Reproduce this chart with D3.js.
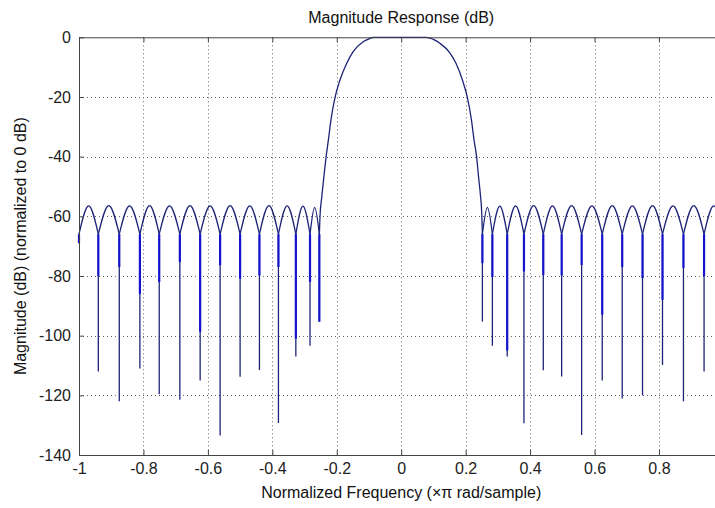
<!DOCTYPE html>
<html>
<head>
<meta charset="utf-8">
<script src="https://cdn.jsdelivr.net/npm/d3@7"></script>
<style>
  body { margin: 0; background: #fff; }
  text { font-family: "Liberation Sans", Arial, Helvetica, sans-serif; }
</style>
</head>
<body>
<div id="chart"></div>
<script>
// tick values (x = 1 falls just past the right edge of the picture)
var xTicks = [-1, -0.8, -0.6, -0.4, -0.2, 0, 0.2, 0.4, 0.6, 0.8];
var yTicks = [0, -20, -40, -60, -80, -100, -120, -140];

// stopband, left of the main lobe: null positions, null depth, depth of the heavy part, lobe tops
var leftNullFreq = [-1.0, -0.940, -0.875, -0.811, -0.751, -0.687, -0.624, -0.562, -0.500, -0.440, -0.381, -0.327, -0.283, -0.254];
var leftNullDb   = [-69, -112, -122, -111, -119.6, -121.5, -115, -133.5, -113.8, -111.5, -129.3, -107, -103.4, -95.3];
var leftThickDb  = [-69, -80, -77, -86, -82, -75.3, -98.7, -76.4, -80.9, -79.8, -77, -101, -82, -95.3];
var leftPeakDb   = [-56.5, -56.4, -56.5, -56.4, -56.5, -56.4, -56.5, -56.4, -56.5, -56.4, -56.5, -56.6, -57];

// stopband, right of the main lobe
var rightNullFreq = [0.252, 0.283, 0.329, 0.381, 0.441, 0.498, 0.560, 0.624, 0.686, 0.749, 0.811, 0.876, 0.940, 1.0];
var rightNullDb   = [-95.3, -103.4, -107, -129.4, -111.6, -113.7, -133.3, -115, -121.1, -120, -109.8, -122, -112, -69];
var rightThickDb  = [-75.7, -80.3, -105, -78.5, -79.7, -79.8, -76.3, -93, -77, -80.7, -88, -77.3, -80, -69];
var rightPeakDb   = [-57, -56.6, -56.5, -56.4, -56.5, -56.4, -56.5, -56.4, -56.5, -56.4, -56.5, -56.4, -56.5];

// level where the lobes meet above each null
var lobeFootDb = -66;

// main lobe
var mainFreq = [-0.254, -0.252, -0.247, -0.240, -0.233, -0.226, -0.218, -0.205, -0.190, -0.169, -0.149, -0.118, -0.100, -0.087,
                0.079, 0.098, 0.120, 0.151, 0.170, 0.190, 0.205, 0.218, 0.226, 0.234, 0.240, 0.246, 0.250, 0.252];
var mainDb   = [-66, -60, -54, -46.7, -40, -34.4, -27.7, -20, -14.3, -8.7, -4.8, -1.5, -0.5, 0,
                0, -0.6, -2, -5.2, -8.7, -14.3, -20, -27.7, -34.4, -40, -46.7, -53, -59, -66];

var width = 715, height = 508;
var plotLeft = 79, plotRight = 723.4, plotTop = 37.3, plotBottom = 455;

var svg = d3.select("#chart").append("svg")
    .attr("width", width)
    .attr("height", height);

var x = d3.scaleLinear().domain([-1, 1]).range([plotLeft, plotRight]);
var y = d3.scaleLinear().domain([-140, 0]).range([plotBottom, plotTop]);

// dotted grid
var grid = svg.append("g").attr("stroke", "#333").attr("stroke-width", 1)
    .attr("stroke-dasharray", "1,3").attr("opacity", 0.75);
grid.selectAll(".gx").data(xTicks.slice(1)).enter().append("line")
    .attr("x1", function(d) { return Math.round(x(d)) + 0.5; })
    .attr("x2", function(d) { return Math.round(x(d)) + 0.5; })
    .attr("y1", plotTop).attr("y2", plotBottom);
grid.selectAll(".gy").data(yTicks.slice(1, -1)).enter().append("line")
    .attr("y1", function(d) { return Math.round(y(d)) + 0.5; })
    .attr("y2", function(d) { return Math.round(y(d)) + 0.5; })
    .attr("x1", plotLeft).attr("x2", plotRight);

// build lobes from the null lists
function lobes(freq, peak) {
  var out = [];
  for (var i = 0; i < freq.length - 1; i++) {
    out.push([[freq[i], lobeFootDb], [(freq[i] + freq[i + 1]) / 2, peak[i]], [freq[i + 1], lobeFootDb]]);
  }
  return out;
}
function spikes(freq, depth, thick) {
  return freq.map(function(f, i) { return { f: f, db: depth[i], thick: thick[i] }; });
}

var allLobes = lobes(leftNullFreq, leftPeakDb).concat(lobes(rightNullFreq, rightPeakDb));
var allSpikes = spikes(leftNullFreq, leftNullDb, leftThickDb).concat(spikes(rightNullFreq, rightNullDb, rightThickDb));

var line = d3.line()
    .x(function(d) { return x(d[0]); })
    .y(function(d) { return y(d[1]); })
    .curve(d3.curveMonotoneX);

var plot = svg.append("g");
var lineColor = "#1d2477";

plot.selectAll(".lobe").data(allLobes).enter().append("path")
    .attr("d", line)
    .attr("fill", "none")
    .attr("stroke", lineColor)
    .attr("stroke-width", 1.3);

plot.selectAll(".spike").data(allSpikes).enter().append("line")
    .attr("x1", function(d) { return x(d.f); })
    .attr("x2", function(d) { return x(d.f); })
    .attr("y1", y(lobeFootDb))
    .attr("y2", function(d) { return y(d.db); })
    .attr("stroke", lineColor)
    .attr("stroke-width", 1.3);

plot.selectAll(".thick").data(allSpikes).enter().append("line")
    .attr("x1", function(d) { return x(d.f); })
    .attr("x2", function(d) { return x(d.f); })
    .attr("y1", y(lobeFootDb))
    .attr("y2", function(d) { return y(d.thick); })
    .attr("stroke", "#1414cc")
    .attr("stroke-width", 2.2);

plot.append("path")
    .datum(d3.zip(mainFreq, mainDb))
    .attr("d", line)
    .attr("fill", "none")
    .attr("stroke", lineColor)
    .attr("stroke-width", 1.3);

// axes with inward ticks
var fmt = function(d) { return String(d); };
function styleAxis(g) {
  g.select(".domain").attr("stroke", "#444");
  g.selectAll(".tick line").attr("stroke", "#444");
  g.selectAll(".tick text").attr("fill", "#222").style("font-size", "16px")
    .style("font-family", '"Liberation Sans", Arial, sans-serif');
}

svg.append("g")
    .attr("transform", "translate(0," + plotBottom + ")")
    .call(d3.axisBottom(x).tickValues(xTicks).tickFormat(fmt).tickSizeInner(-5).tickSizeOuter(0).tickPadding(8))
    .call(styleAxis);
svg.append("g")
    .attr("transform", "translate(0," + plotTop + ")")
    .call(d3.axisTop(x).tickValues(xTicks).tickFormat("").tickSizeInner(-5).tickSizeOuter(0))
    .call(styleAxis);
svg.append("g")
    .attr("transform", "translate(" + plotLeft + ",0)")
    .call(d3.axisLeft(y).tickValues(yTicks).tickFormat(fmt).tickSizeInner(-5).tickSizeOuter(0).tickPadding(8))
    .call(styleAxis);

// titles
svg.append("text")
    .attr("x", (plotLeft + plotRight) / 2).attr("y", 23)
    .attr("text-anchor", "middle").attr("fill", "#111")
    .style("font-size", "16px")
    .text("Magnitude Response (dB)");
svg.append("text")
    .attr("x", (plotLeft + plotRight) / 2).attr("y", 498)
    .attr("text-anchor", "middle").attr("fill", "#111")
    .style("font-size", "16px")
    .text("Normalized Frequency (\u00d7\u03c0 rad/sample)");
svg.append("text")
    .attr("transform", "translate(26," + ((plotTop + plotBottom) / 2) + ") rotate(-90)")
    .attr("text-anchor", "middle").attr("fill", "#111")
    .style("font-size", "16px")
    .text("Magnitude (dB) (normalized to 0 dB)");
</script>
</body>
</html>
